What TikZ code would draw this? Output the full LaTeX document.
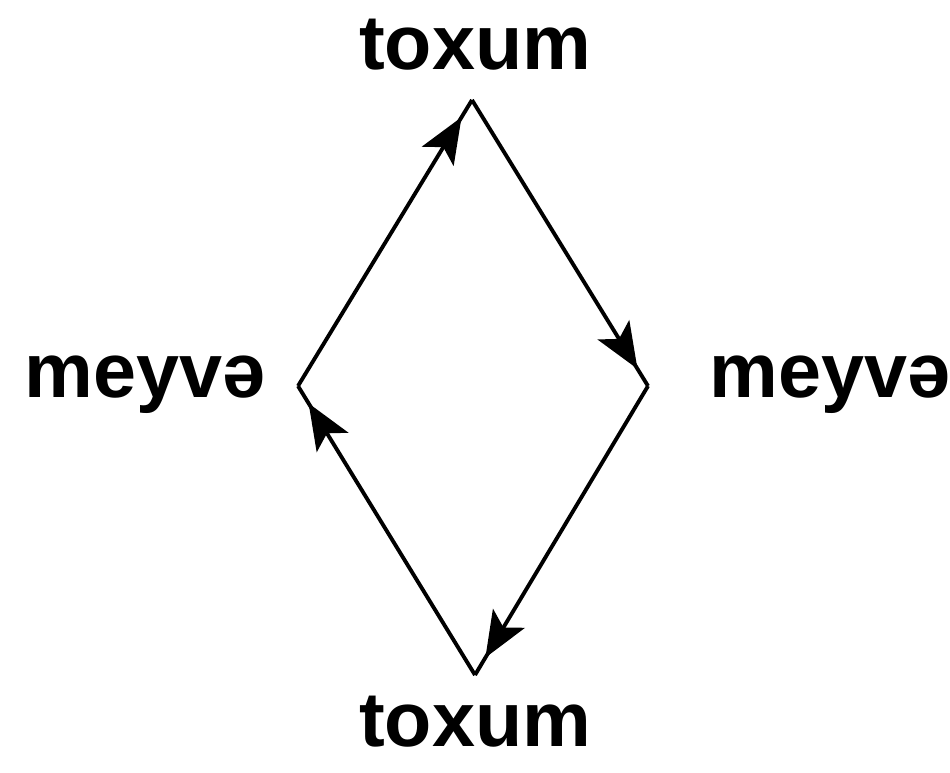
\documentclass[tikz,border=0pt]{standalone}
\usepackage{fontspec}
\setmainfont{Liberation Sans}
\usetikzlibrary{arrows.meta,decorations.markings}
\tikzset{
  lbl/.style={font=\fontsize{44}{50}\selectfont\bfseries, inner sep=0pt},
  edge/.style={line width=2.2pt, line join=miter,
    postaction={decorate, decoration={markings,
      mark=at position 0.94 with {\arrow{Stealth[length=26pt,width=21pt,inset=6pt]}}}}}
}
\begin{document}
\begin{tikzpicture}
\useasboundingbox (0,0) rectangle (19,15.44);
\coordinate (T) at (9.44,13.44);
\coordinate (R) at (12.96,7.72);
\coordinate (B) at (9.5,1.94);
\coordinate (L) at (5.96,7.72);
\node[lbl] (tt) at (9.5,14.54) {toxum};
\node[lbl] (tb) at (9.5,1.0) {toxum};
\node[lbl] (ml) at (2.9,7.74) {meyvə};
\node[lbl] (mr) at (16.6,7.74) {meyvə};
\draw[edge] (L) -- (T);
\draw[edge] (T) -- (R);
\draw[edge] (R) -- (B);
\draw[edge] (B) -- (L);
\end{tikzpicture}
\end{document}
